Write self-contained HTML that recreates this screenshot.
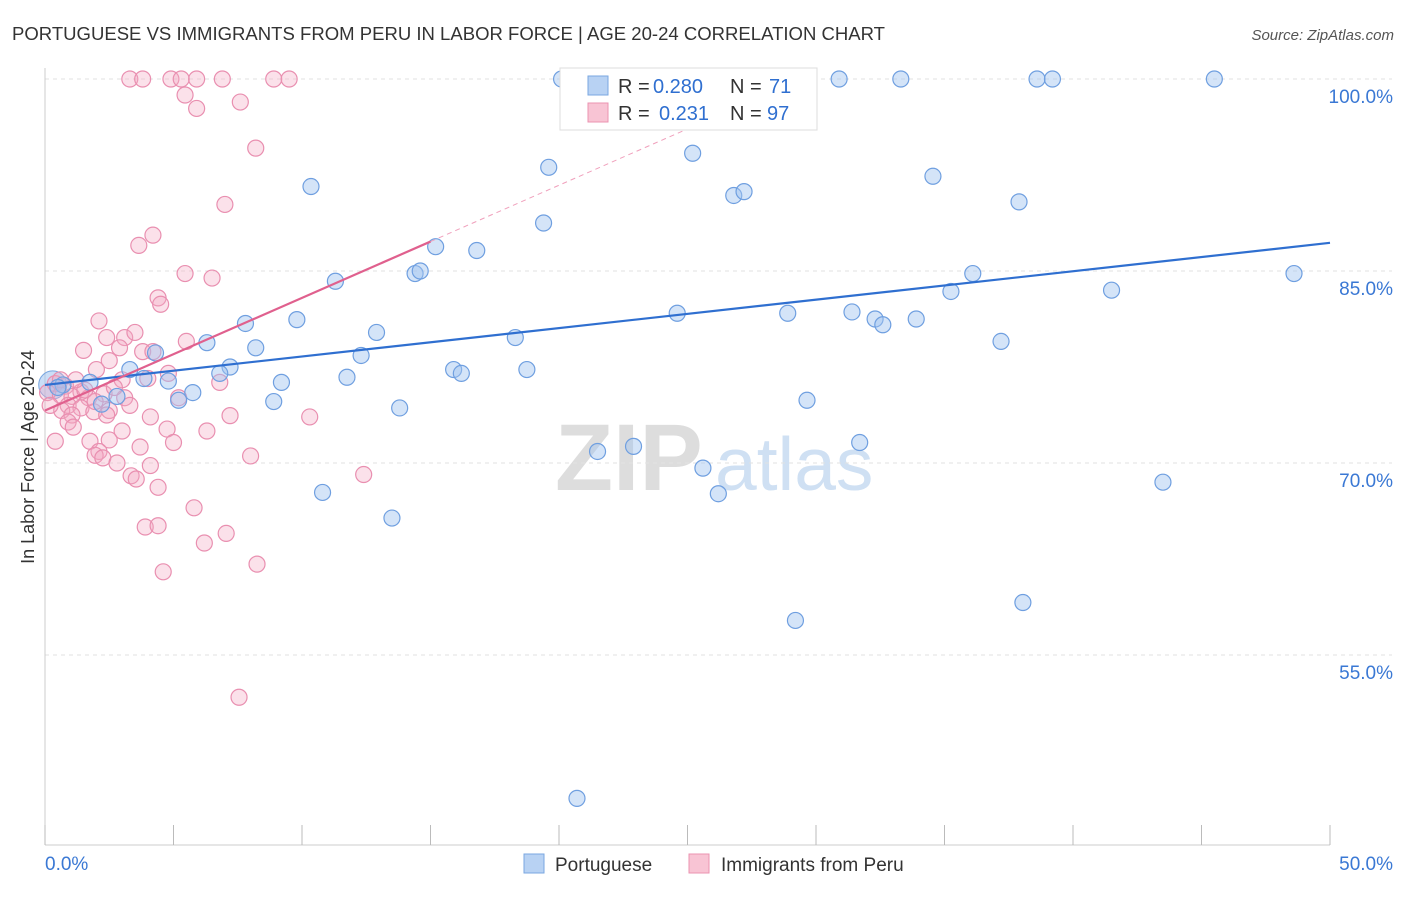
<!DOCTYPE html>
<html><head><meta charset="utf-8"><style>
body{margin:0;background:#fff;font-family:"Liberation Sans",sans-serif}
svg text{font-family:"Liberation Sans",sans-serif}
</style></head><body>
<svg id="chart" width="1406" height="892">
<text x="12" y="40" font-size="18" fill="#333" textLength="873" lengthAdjust="spacingAndGlyphs">PORTUGUESE VS IMMIGRANTS FROM PERU IN LABOR FORCE | AGE 20-24 CORRELATION CHART</text>
<text x="1394" y="40" font-size="15" fill="#555" text-anchor="end" font-style="italic">Source: ZipAtlas.com</text>
<text transform="translate(34,457) rotate(-90)" font-size="18" fill="#333" text-anchor="middle">In Labor Force | Age 20-24</text>
<g><text x="555" y="490" font-size="95" fill="#ddd" font-family="Liberation Serif" font-weight="bold">ZIP</text><text x="715" y="490" font-size="75" fill="#cfe0f3">atlas</text></g>
<g id="grid"></g><g id="axes"></g><g id="pts"></g><g id="lines"></g>
<g>
<rect x="560" y="68" width="257" height="62" fill="#fff" stroke="#ddd"/>
<rect x="588" y="76" width="20" height="19" fill="#b8d2f3" stroke="#7aa7e0"/>
<text x="618" y="93" font-size="20" fill="#333">R =</text>
<text x="653" y="93" font-size="20" fill="#2f6fd0">0.280</text>
<text x="730" y="93" font-size="20" fill="#333">N =</text>
<text x="769" y="93" font-size="20" fill="#2f6fd0">71</text>
<rect x="588" y="103" width="20" height="19" fill="#f8c4d4" stroke="#eb93b1"/>
<text x="618" y="120" font-size="20" fill="#333">R =</text>
<text x="659" y="120" font-size="20" fill="#2f6fd0">0.231</text>
<text x="730" y="120" font-size="20" fill="#333">N =</text>
<text x="767" y="120" font-size="20" fill="#2f6fd0">97</text>
</g>
<g>
<rect x="524" y="854" width="20" height="19" fill="#b8d2f3" stroke="#7aa7e0"/>
<text x="555" y="871" font-size="19" fill="#333">Portuguese</text>
<rect x="689" y="854" width="20" height="19" fill="#f8c4d4" stroke="#eb93b1"/>
<text x="721" y="871" font-size="19" fill="#333">Immigrants from Peru</text>
</g>
</svg>
<script>
const yTicks=[100,85,70,55];
const xTickLabels=["0.0%","50.0%"];
const blueX=[20.1,22.4,30.9,33.3,38.6,39.2,45.5,25.2,19.6,10.35,26.8,27.2,34.55,37.9,19.4,16.8,15.2,14.4,14.6,11.3,36.1,48.6,35.25,41.5,24.6,28.9,31.4,32.3,32.6,33.9,9.8,7.8,12.9,18.3,37.2,6.3,8.2,4.3,12.3,7.2,3.3,6.8,15.9,16.2,18.75,11.75,3.85,4.8,9.2,0.7,1.75,0.5,5.75,5.2,2.8,8.9,2.2,13.8,29.65,31.7,22.9,21.5,25.6,43.5,10.8,26.2,13.5,38.05,29.2,20.7];
const blueY=[100,97.6,100,100,100,100,100,94.2,93.1,91.6,90.9,91.2,92.4,90.4,88.75,86.6,86.9,84.8,85.0,84.2,84.8,84.8,83.4,83.5,81.7,81.7,81.8,81.25,80.8,81.25,81.2,80.9,80.2,79.8,79.5,79.4,79.0,78.6,78.4,77.5,77.3,77.0,77.3,77.0,77.3,76.7,76.6,76.4,76.3,76.1,76.3,75.9,75.5,74.9,75.2,74.8,74.6,74.3,74.9,71.6,71.3,70.9,69.6,68.5,67.7,67.6,65.7,59.1,57.7,43.8];
const pinkX=[3.3,3.8,4.9,5.3,5.9,6.9,8.9,9.5,5.45,5.9,7.6,8.2,7.0,4.2,3.65,5.45,6.5,4.4,4.5,2.1,2.4,3.1,3.5,5.5,2.9,1.5,3.8,4.2,2.5,2.0,4.8,3.0,4.0,6.8,0.4,0.8,1.4,0.1,0.6,1.05,1.7,2.3,3.1,5.2,0.9,1.4,0.65,1.9,2.5,1.05,2.4,4.1,7.2,10.3,0.9,1.1,3.0,4.75,6.3,0.4,1.75,2.5,3.7,5.0,2.1,1.95,8.0,2.25,2.8,4.1,3.35,3.55,12.4,4.4,5.8,3.9,4.4,7.05,6.2,8.25,4.6,7.55,1.55,0.2,1.2,2.7,0.6,1.95,3.3];
const pinkY=[100,100,100,100,100,100,100,100,98.75,97.7,98.2,94.6,90.2,87.8,87.0,84.8,84.45,82.9,82.4,81.1,79.8,79.8,80.2,79.5,79.0,78.8,78.7,78.7,78.0,77.3,77.0,76.5,76.6,76.3,76.2,76.0,75.55,75.5,75.3,75.2,75.1,75.4,75.1,75.1,74.5,74.3,74.1,74.0,74.1,73.75,73.75,73.6,73.7,73.6,73.2,72.8,72.5,72.65,72.5,71.7,71.7,71.8,71.25,71.6,70.9,70.6,70.55,70.4,70.0,69.8,69.0,68.75,69.1,68.1,66.5,65.0,65.1,64.5,63.75,62.1,61.5,51.7,75.7,74.5,76.5,75.9,76.5,74.8,74.5];
const blueTrend=[76.1,87.2];
const pinkTrend=[74.1,87.3];
const NS="http://www.w3.org/2000/svg";
const X=v=>45+v*25.7, Y=v=>79+(100-v)*12.8;
function mk(tag,attrs,parent){const e=document.createElementNS(NS,tag);for(const k in attrs)e.setAttribute(k,attrs[k]);document.getElementById(parent).appendChild(e);return e;}
yTicks.forEach(t=>{
 const l=mk('line',{x1:45,x2:1392,y1:Y(t),y2:Y(t),stroke:'#e2e2e2','stroke-dasharray':'4,4'},'grid');
 
 
 const tx=mk('text',{x:1393,y:Y(t)+24,'font-size':19,fill:'#3a78d4','text-anchor':'end'},'axes');tx.textContent=t.toFixed(1)+'%';
 
 
});
mk('line',{x1:45,x2:45,y1:68,y2:845,stroke:'#ccc'},'axes');
mk('line',{x1:45,x2:1330,y1:845,y2:845,stroke:'#ccc'},'axes');
for(let i=0;i<=10;i++){const l=mk('line',{x1:X(i*5),x2:X(i*5),y1:825,y2:845,stroke:'#bbb'},'axes');
 
 }
const xl0=mk('text',{x:45,y:870,'font-size':19,fill:'#3a78d4'},'axes');xl0.textContent=xTickLabels[0];


const xl1=mk('text',{x:1393,y:870,'font-size':19,fill:'#3a78d4','text-anchor':'end'},'axes');xl1.textContent=xTickLabels[1];


const bb=mk('circle',{cx:X(0.3),cy:Y(76.1),r:14,fill:'rgba(150,190,240,0.5)',stroke:'#7aa7e0'},'pts');


pinkX.forEach((x,i)=>{const c=mk('circle',{cx:X(x),cy:Y(pinkY[i]),r:8,fill:'rgba(244,170,196,0.35)',stroke:'#e98fb0','stroke-width':1.2},'pts');
 
 });
blueX.forEach((x,i)=>{const c=mk('circle',{cx:X(x),cy:Y(blueY[i]),r:8,fill:'rgba(160,196,240,0.45)',stroke:'#6f9fe0','stroke-width':1.2},'pts');
 
 });
const bl=mk('line',{x1:X(0),y1:Y(blueTrend[0]),x2:X(50),y2:Y(blueTrend[1]),stroke:'#2f6fd0','stroke-width':2.2},'lines');


const ps=(pinkTrend[1]-pinkTrend[0])/15;
const pd=mk('line',{x1:X(15),y1:Y(pinkTrend[1]),x2:X(25),y2:Y(pinkTrend[0]+ps*25),stroke:'#f0a0bc','stroke-width':1,'stroke-dasharray':'5,4'},'lines');


const pl=mk('line',{x1:X(0),y1:Y(pinkTrend[0]),x2:X(15),y2:Y(pinkTrend[1]),stroke:'#e0608e','stroke-width':2.2},'lines');


</script>
</body></html>
